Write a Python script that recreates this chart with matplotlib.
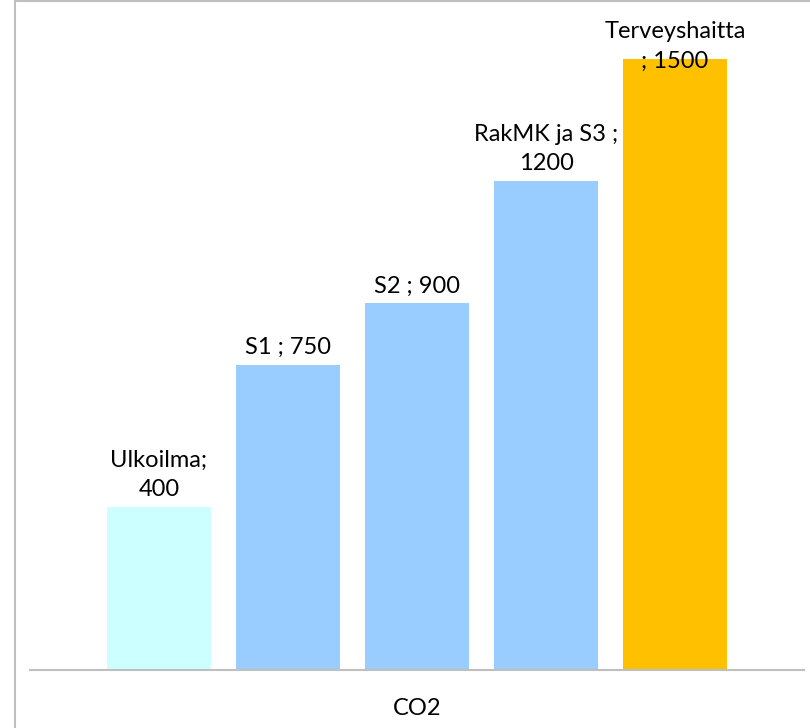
import matplotlib
matplotlib.use("Agg")
import matplotlib.pyplot as plt
from matplotlib.patches import Rectangle

categories = ["Ulkoilma", "S1", "S2", "RakMK ja S3", "Terveyshaitta"]
values = [400, 750, 900, 1200, 1500]
labels = ["Ulkoilma;\n400", "S1 ; 750", "S2 ; 900", "RakMK ja S3 ;\n1200", "Terveyshaitta\n; 1500"]
colors = ["#ccffff", "#99ccff", "#99ccff", "#99ccff", "#ffc000"]
axis_label = "CO2"

plt.rcParams['font.family'] = ['Lato', 'DejaVu Sans']

fig = plt.figure(figsize=(8.1, 7.28), dpi=100)
ax = fig.add_axes([30/810, 1 - 670/728, 774/810, (670 - 18.3)/728])

x = list(range(len(values)))
bars = ax.bar(x, values, width=0.8, color=colors, zorder=2)
ax.set_xlim(-1, 5)
ax.set_ylim(0, 1600)

for i, (b, lab) in enumerate(zip(bars, labels)):
    off = 5 if i < len(values) - 1 else -9
    ax.annotate(lab, (b.get_x() + b.get_width()/2, b.get_height()),
                xytext=(0, off), textcoords="offset points",
                ha="center", va="bottom", fontsize=17, color="black",
                linespacing=1.5, annotation_clip=False, zorder=3)

for s in ["top", "right", "left"]:
    ax.spines[s].set_visible(False)
ax.spines["bottom"].set_color("#bfbfbf")
ax.spines["bottom"].set_linewidth(1.5)
ax.set_yticks([])
ax.set_xticks([2])
ax.set_xticklabels([axis_label], fontsize=17, color="black")
ax.tick_params(axis="x", length=0, pad=20)

fig.patches.append(Rectangle((14.5/810, -0.1), 2, 1.1 - 1.5/728,
                             transform=fig.transFigure, fill=False,
                             edgecolor="#bfbfbf", linewidth=1.5, zorder=0))

fig.savefig("out.png", dpi=100)
